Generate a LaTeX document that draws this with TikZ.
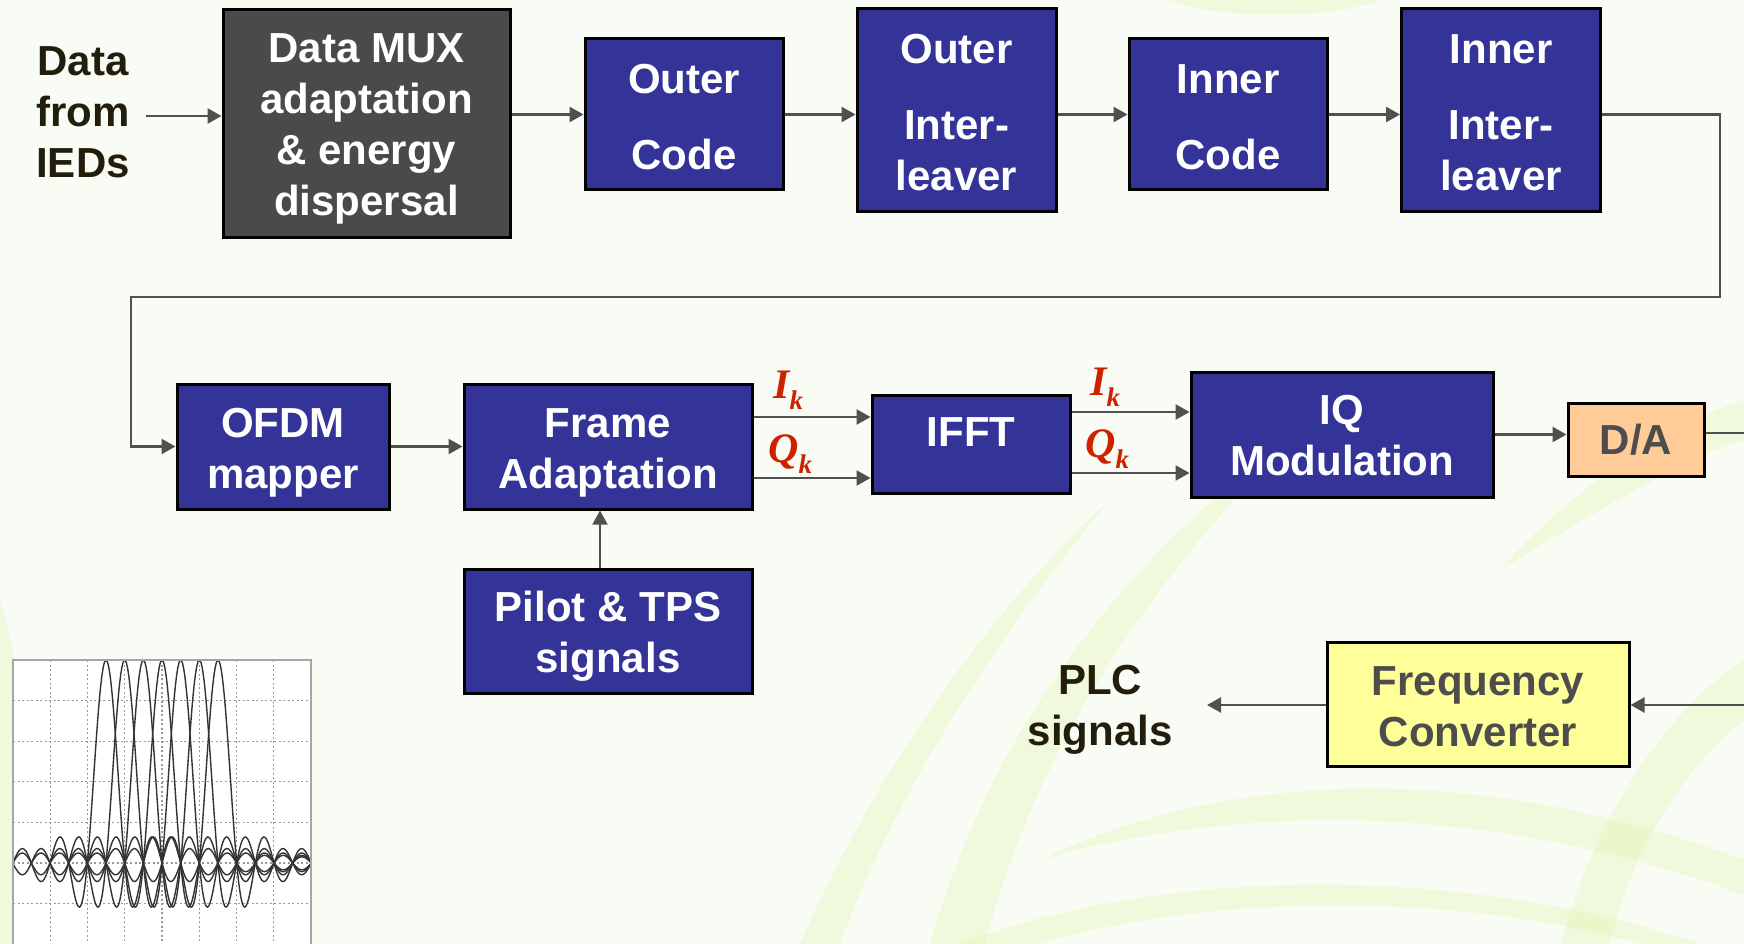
\documentclass[tikz,border=0pt]{standalone}
\usepackage{fontspec}
\setmainfont{Liberation Sans}
\newfontfamily\lblserif{Liberation Serif}
\usetikzlibrary{arrows.meta}
\definecolor{bgc}{RGB}{248,252,244}
\definecolor{swc}{RGB}{220,242,160}
\definecolor{blueb}{RGB}{52,52,152}
\definecolor{muxg}{RGB}{74,74,74}
\definecolor{lineg}{RGB}{80,80,80}
\definecolor{redl}{RGB}{204,34,0}
\definecolor{darkt}{RGB}{35,30,12}
\definecolor{grayt}{RGB}{77,77,77}
\definecolor{peach}{RGB}{255,204,153}
\definecolor{paley}{RGB}{255,255,153}
\newcommand\subk[1]{\raisebox{-11pt}{\fontsize{27}{27}\selectfont #1}}
\newcommand\tstrut[1]{\rule{0pt}{#1}}
\begin{document}
\begin{tikzpicture}[x=1pt,y=-1pt,
  blk/.style={draw=black,line width=3pt,fill=blueb,text=white,font=\fontsize{42}{51}\selectfont\bfseries,align=center,inner sep=0pt},
  conn/.style={draw=lineg,line width=2.5pt,-{Triangle[length=14pt,width=15pt]}},
  plainline/.style={draw=lineg,line width=2.5pt},
  lbl/.style={text=darkt,font=\fontsize{42}{51}\selectfont\bfseries,align=center,inner sep=0pt},
  iqlbl/.style={text=redl,font=\lblserif\fontsize{42}{42}\selectfont\bfseries\itshape,inner sep=0pt,anchor=base west},
  swoosh/.style={fill=swc,fill opacity=0.28,draw=none},
  gridl/.style={draw=gray!80,line width=1.2pt,dash pattern=on 2pt off 2.5pt},
  sincl/.style={draw=black!80,line width=1.4pt}
]
\useasboundingbox (0,0) rectangle (1744,944);
\fill[bgc] (0,0) rectangle (1744,944);
% background swooshes
\fill[swoosh] (930,944) .. controls (1000,700) and (1150,540) .. (1300,430) .. controls (1170,560) and (1040,730) .. (985,944) -- cycle;
\fill[swoosh] (1040,860) .. controls (1250,760) and (1500,770) .. (1744,860) -- (1744,895) .. controls (1500,805) and (1250,800) .. (1040,860) -- cycle;
\fill[swoosh] (960,944) .. controls (1150,870) and (1450,860) .. (1700,944) -- (1640,944) .. controls (1450,890) and (1200,895) .. (1040,944) -- cycle;
\fill[swoosh] (1500,570) .. controls (1580,480) and (1680,420) .. (1744,400) -- (1744,440) .. controls (1680,460) and (1590,515) .. (1500,570) -- cycle;
\fill[swoosh] (1560,944) .. controls (1600,800) and (1680,700) .. (1744,660) -- (1744,720) .. controls (1690,760) and (1630,850) .. (1610,944) -- cycle;
\fill[swoosh] (1170,0) .. controls (1220,20) and (1330,20) .. (1380,0) -- cycle;
\fill[swoosh] (0,600) .. controls (30,700) and (40,850) .. (20,944) -- (0,944) -- cycle;
\fill[swoosh] (800,944) .. controls (880,760) and (1000,600) .. (1110,500) .. controls (1010,620) and (900,780) .. (840,944) -- cycle;

% spectrum graph
\fill[white] (13,660) rectangle (311,944);
\begin{scope}
  \clip (13,660) rectangle (311,944);
  \foreach \i in {1,...,7} \draw[gridl] ({13+37.25*\i},660) -- ({13+37.25*\i},944);
  \foreach \j in {1,...,6} \draw[gridl] (13,{660+40.6*\j}) -- (311,{660+40.6*\j});
  \foreach \k in {0,...,6}
    \draw[sincl] plot[domain=-7.05:11.05,samples=300] ({106+18.67*\k+18.67*\x},{863-203*sin(180*\x)/(pi*\x)});
\end{scope}
\draw[gray!70,line width=1.2pt] (13,944) -- (13,660) -- (311,660) -- (311,944);

% blocks
\node[blk,fill=muxg,minimum width=287pt,minimum height=227pt] (mux) at (366.5,123.5) {\tstrut{40pt}Data MUX\\adaptation\\\& energy\\dispersal};
\node[blk,minimum width=198pt,minimum height=151pt] (outer) at (684,114.5) {\tstrut{34pt}Outer\\[25pt]Code};
\node[blk,minimum width=199pt,minimum height=202pt] (oil) at (956.5,110) {\tstrut{34pt}Outer\\[25pt]Inter-\\leaver};
\node[blk,minimum width=198pt,minimum height=151pt] (inner) at (1228,114.5) {\tstrut{34pt}Inner\\[25pt]Code};
\node[blk,minimum width=199pt,minimum height=202pt] (iil) at (1501,110) {\tstrut{34pt}Inner\\[25pt]Inter-\\leaver};
\node[blk,minimum width=212pt,minimum height=125pt] (ofdm) at (283,446.5) {\tstrut{42pt}OFDM\\mapper};
\node[blk,minimum width=288pt,minimum height=125pt] (frame) at (608,446.5) {\tstrut{42pt}Frame\\Adaptation};
\node[blk,minimum width=288pt,minimum height=124pt] (pilot) at (608,631) {\tstrut{41pt}Pilot \& TPS\\signals};
\node[blk,minimum width=198pt,minimum height=98pt] (ifft) at (971,444) {\raisebox{24pt}{IFFT}};
\node[blk,minimum width=302pt,minimum height=125pt] (iq) at (1342,434.5) {\tstrut{32pt}IQ\\Modulation};
\node[blk,fill=peach,text=grayt,minimum width=136pt,minimum height=73pt] (da) at (1636,439.5) {D/A};
\node[blk,fill=paley,text=grayt,minimum width=302pt,minimum height=124pt] (fc) at (1478,704) {\tstrut{34pt}Frequency\\Converter};

% plain labels
\node[lbl] (data) at (83,112) {Data\\from\\IEDs};
\node[lbl] (plc) at (1100,710) {PLC\\signals};

% I/Q labels
\node[iqlbl] (i1) at (773,398) {I\subk{k}};
\node[iqlbl] (q1) at (768,462) {Q\subk{k}};
\node[iqlbl] (i2) at (1090,395) {I\subk{k}};
\node[iqlbl] (q2) at (1085,457) {Q\subk{k}};

% free-end coordinates
\coordinate (din) at (146,116);
\coordinate (daout) at (1744,433);
\coordinate (fcin) at (1744,705);
\coordinate (plctip) at (1207,705);

% connectors
\draw[conn] (din) -- (din -| mux.west);
\draw[conn] (mux.east |- outer.west) -- (outer.west);
\draw[conn] (outer.east) -- (outer.east -| oil.west);
\draw[conn] (oil.east |- inner.east) -- (inner.west);
\draw[conn] (inner.east) -- (inner.east -| iil.west);
\draw[conn] (iil.east |- inner.east) -| (1720,297) -| (131,370) |- (ofdm.west);
\draw[conn] (ofdm.east) -- (frame.west);
\coordinate (fi) at ([yshift=29.5pt]frame.east);
\coordinate (fq) at ([yshift=-31.5pt]frame.east);
\draw[conn] (fi) -- (fi -| ifft.west);
\draw[conn] (fq) -- (fq -| ifft.west);
\coordinate (ii) at ([yshift=32pt]ifft.east);
\coordinate (iqq) at ([yshift=-29pt]ifft.east);
\draw[conn] (ii) -- (ii -| iq.west);
\draw[conn] (iqq) -- (iqq -| iq.west);
\draw[conn] (iq.east) -- (iq.east -| da.west);
\draw[plainline] (da.east |- daout) -- (daout);
\draw[conn] (fcin) -- (fcin -| fc.east);
\draw[conn] (fc.west |- plctip) -- (plctip);
\draw[conn,line width=1.5pt] ([xshift=-8pt]pilot.north) -- ([xshift=-8pt]frame.south);
\end{tikzpicture}
\end{document}
